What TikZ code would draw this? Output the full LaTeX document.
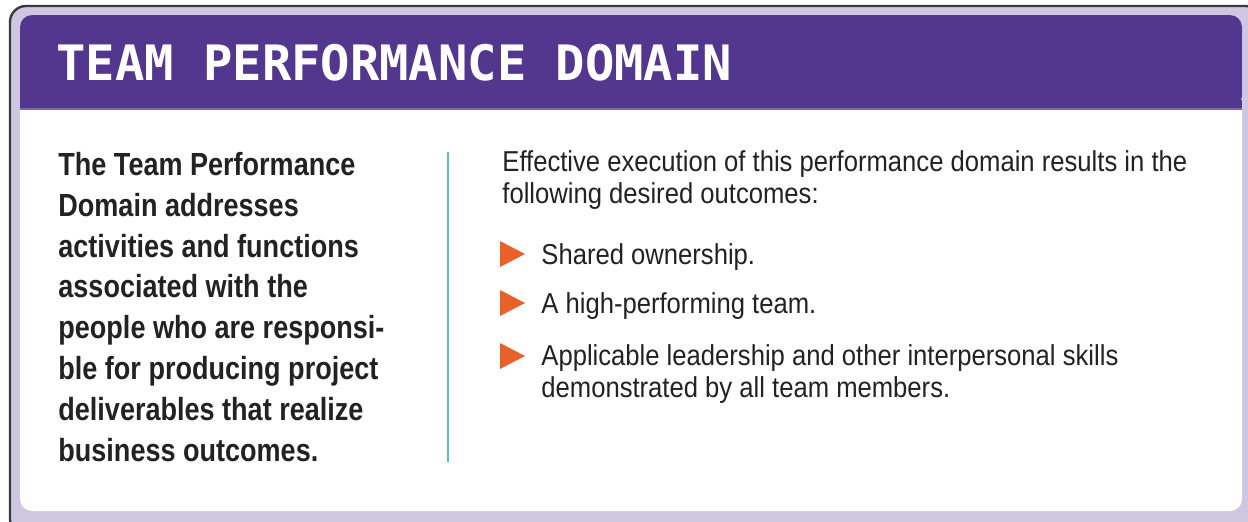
\documentclass[tikz,border=0pt]{standalone}
\usepackage{fontspec}
\setmainfont{Liberation Sans}[FakeStretch=0.84]
\newfontfamily\titlefont{DejaVu Sans Mono}
\newfontfamily\leftfont{Liberation Sans}[FakeStretch=0.845]
\newfontfamily\rightfont{Liberation Sans}[FakeStretch=0.89]
\definecolor{frame}{HTML}{3A3A3A}
\definecolor{lav}{HTML}{CFC7E2}
\definecolor{hdr}{HTML}{53378F}
\definecolor{hdrline}{HTML}{7B66AC}
\definecolor{txt}{HTML}{222222}
\definecolor{rule}{HTML}{5DBBCF}
\definecolor{bul}{HTML}{E8612A}
\tikzset{
  bodytext/.style={inner sep=0pt, anchor=north west, align=left, text=txt},
  bulletmark/.style={fill=bul, draw=none},
}
\begin{document}
\begin{tikzpicture}[x=0.5pt,y=-0.5pt]
\useasboundingbox (0,0) rectangle (1248,521);
% outer frame
\fill[lav, draw=frame, line width=1.2pt, rounded corners=8pt] (10,6) rectangle (1262,535);
% inner panel
\fill[white, rounded corners=6pt] (20,15) rectangle (1242,511);
\fill[hdr] [rounded corners=6pt] (20,108) -- (20,15) -- (1242,15) -- (1242,108) [sharp corners] -- cycle;
\fill[hdr] (20,100) rectangle (1242,108);
\draw[hdrline, line width=1pt] (20,108.5) -- (1242,108.5);
% title
\node[inner sep=0pt, anchor=base west, text=white, font=\titlefont\bfseries\fontsize{24.4}{28}\selectfont] (title) at (56,80) {TEAM PERFORMANCE DOMAIN};
% left text
\node[bodytext, font=\leftfont\bfseries\fontsize{16}{20.4}\selectfont] (lefttext) at (58,152) {The Team Performance\\Domain addresses\\activities and functions\\associated with the\\people who are responsi-\\ble for producing project\\deliverables that realize\\business outcomes.};
% divider
\coordinate (rtop) at (448,152);
\coordinate (rbot) at (448,462);
\draw[rule, line width=1pt] (rtop) -- (rbot);
% right text
\node[bodytext, font=\rightfont\fontsize{14.4}{16}\selectfont] (intro) at (502,150) {Effective execution of this performance domain results in the\\following desired outcomes:};
\fill[bulletmark] (500,241) -- (525,254) -- (500,267) -- cycle;
\fill[bulletmark] (500,290) -- (525,303) -- (500,316) -- cycle;
\fill[bulletmark] (500,343) -- (525,356) -- (500,369) -- cycle;
\node[bodytext, font=\rightfont\fontsize{14.4}{16}\selectfont] (b1) at (541,243) {Shared ownership.};
\node[bodytext, font=\rightfont\fontsize{14.4}{16}\selectfont] (b2) at (541,292) {A high-performing team.};
\node[bodytext, font=\rightfont\fontsize{14.4}{16}\selectfont] (b3) at (541,344) {Applicable leadership and other interpersonal skills\\demonstrated by all team members.};
\end{tikzpicture}
\end{document}
